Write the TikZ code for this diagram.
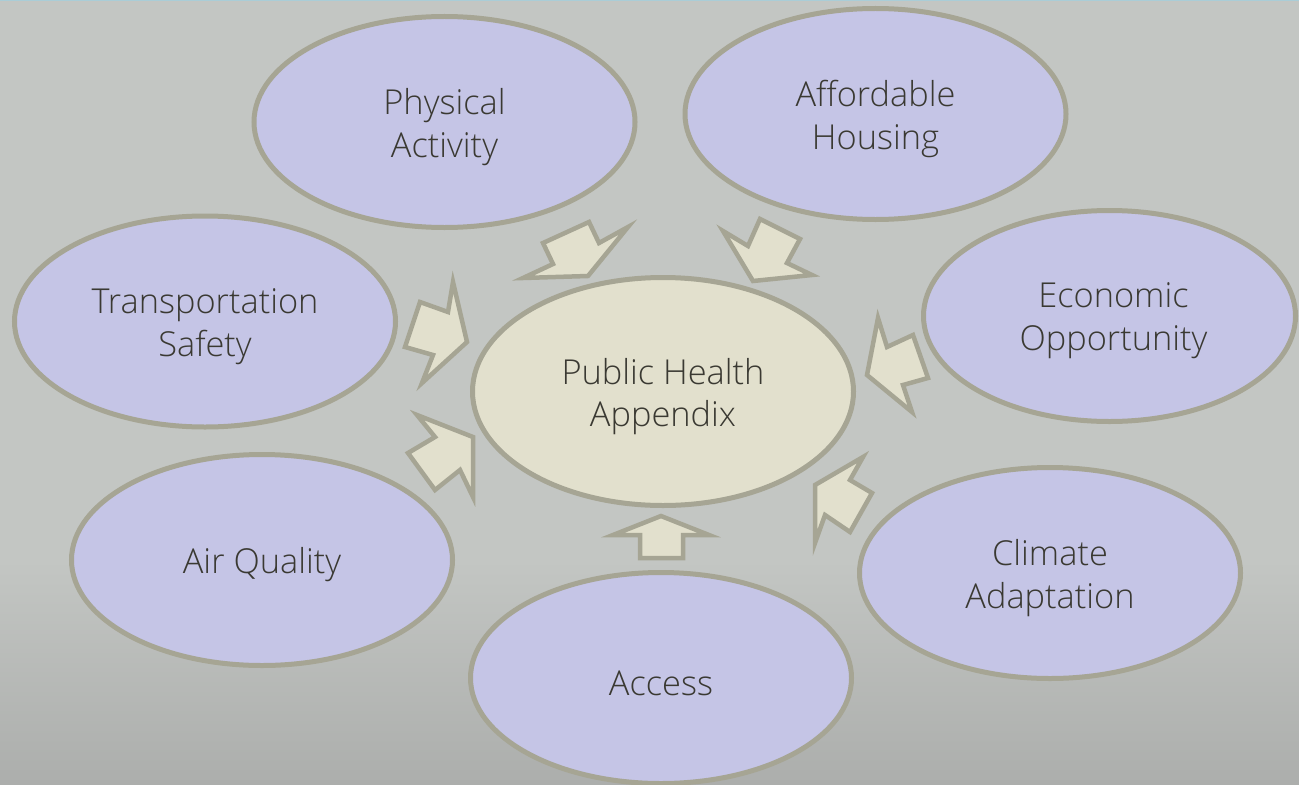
\documentclass[tikz,border=0pt]{standalone}
\usepackage{fontspec}
\setmainfont{Open Sans Light}
\usetikzlibrary{shapes.geometric}
\definecolor{bgtop}{RGB}{195,198,195}
\definecolor{bgbot}{RGB}{172,174,172}
\definecolor{lav}{RGB}{197,197,230}
\definecolor{rim}{RGB}{166,165,148}
\definecolor{cream}{RGB}{226,224,205}
\definecolor{ink}{RGB}{58,57,50}
\definecolor{topline}{RGB}{170,205,215}
\tikzset{
  topic/.style={ellipse, draw=rim, line width=5bp, fill=lav, inner sep=0pt,
    minimum width=381bp, minimum height=211bp},
  hub/.style={topic, fill=cream, minimum width=381bp, minimum height=228bp},
  tlabel/.style={align=center, text=ink, inner sep=0pt, yshift=-5bp,
    font=\fontsize{34.5}{43}\selectfont},
  blockarrow/.style={draw=rim, fill=cream, line width=4.5bp, line join=miter}
}
\begin{document}
\begin{tikzpicture}[x=1bp,y=-1bp]
\useasboundingbox (0,0) rectangle (1299,784);
\clip (0,0) rectangle (1299,784);
\fill[bgtop] (0,0) rectangle (1299,784);
\shade[top color=bgtop, bottom color=bgbot] (0,560) rectangle (1299,784);
\draw[topline, line width=1.5bp] (0,0.75) -- (1299,0.75);
% topics
\node[topic, label={[tlabel]center:{Physical\\Activity}}] (phys) at (444.5,122) {};
\node[topic, label={[tlabel]center:{Affordable\\Housing}}] (house) at (875.5,114) {};
\node[topic, label={[tlabel]center:{Transportation\\Safety}}] (trans) at (205,321.5) {};
\node[topic, minimum width=372bp, label={[tlabel, xshift=4bp]center:{Economic\\Opportunity}}] (econ) at (1109.5,316) {};
\node[hub, label={[tlabel]center:{Public Health\\Appendix}}] (hub) at (663,391.5) {};
\node[topic, label={[tlabel]center:{Air Quality}}] (air) at (262,560) {};
\node[topic, label={[tlabel]center:{Climate\\Adaptation}}] (clim) at (1050,573) {};
\node[topic, label={[tlabel]center:{Access}}] (acc) at (661,678) {};
% arrows toward the hub
\draw[blockarrow] (523,278) -- (588,276) -- (628,227) -- (599,243) -- (589,222) -- (543,243) -- (553,264) -- cycle;
\draw[blockarrow] (723,231) -- (753,281) -- (812,275) -- (787,263) -- (800,239) -- (760,219) -- (748,246) -- cycle;
\draw[blockarrow] (453,282) -- (467,342) -- (422,383) -- (433,355) -- (405,347) -- (420,302) -- (448,312) -- cycle;
\draw[blockarrow] (417,415) -- (473,437) -- (473,497) -- (460,470) -- (435,490) -- (408,453) -- (435,437) -- cycle;
\draw[blockarrow] (613,535) -- (661,516) -- (709,535) -- (683,535) -- (683,558) -- (640,558) -- (640,535) -- cycle;
\draw[blockarrow] (863,457) -- (815,485) -- (815,543) -- (825,515) -- (850,532) -- (872,493) -- (850,480) -- cycle;
\draw[blockarrow] (878,318) -- (867,375) -- (912,412) -- (903,385) -- (928,378) -- (913,335) -- (887,347) -- cycle;
\end{tikzpicture}
\end{document}
